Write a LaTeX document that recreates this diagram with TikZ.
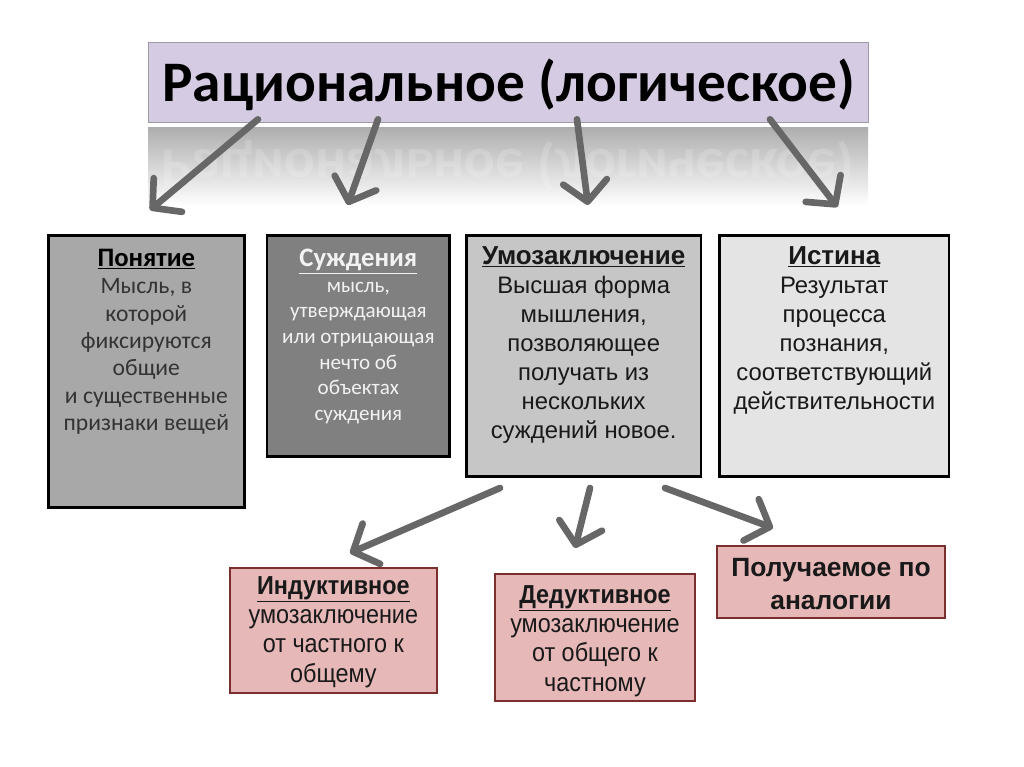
\documentclass[tikz,border=0pt]{standalone}
\usepackage{fontspec}
\setmainfont{Carlito}
\newfontfamily\arialfont{Liberation Sans}
\newfontfamily\narrowfont[FakeStretch=0.9]{Liberation Sans}
\usetikzlibrary{arrows.meta,positioning,calc}
\definecolor{titlefill}{HTML}{D5CBE2}
\definecolor{titledraw}{HTML}{9E9AA6}
\definecolor{arrgray}{HTML}{676767}
\definecolor{pinkfill}{HTML}{E6B9B8}
\definecolor{boxred}{HTML}{7A2E2E}
\definecolor{ponfill}{HTML}{A8A8A8}
\definecolor{sudfill}{HTML}{808080}
\definecolor{umofill}{HTML}{C6C6C6}
\definecolor{istfill}{HTML}{E4E4E4}

\begin{document}
\begin{tikzpicture}[x=0.75pt,y=-0.75pt,
  box/.style={draw=black, line width=2pt, inner sep=0pt, anchor=north west},
  pinkbox/.style={draw=boxred, line width=1.5pt, fill=pinkfill, inner sep=0pt, anchor=north west},
  boxtext/.style={anchor=north, inner sep=0pt, align=center},
  arr/.style={draw=arrgray, line width=5pt, line cap=round,
    -{Straight Barb[length=15pt,width=33pt,round]}},
  ]
  \useasboundingbox (0,0) rectangle (1024,767);
  \fill[white] (0,0) rectangle (1024,767);

  % title and its reflection
  \node[draw=titledraw, line width=1pt, fill=titlefill, inner sep=0pt,
    minimum width=540pt, minimum height=60pt, anchor=north west] (title) at (148,42) {};
  \node[inner sep=0pt, font=\fontsize{43}{45}\selectfont\bfseries] (titletext) at ([shift={(0,2)}]title.center) {Рациональное (логическое)};
  \shade[top color=black!32, bottom color=white] (148,127) rectangle (868,206);
  \begin{scope}
    \clip (148,127) rectangle (868,206);
    \node[inner sep=0pt, transform shape, yscale=-1, text=white, opacity=0.17,
      font=\fontsize{43}{45}\selectfont\bfseries] (mirror) at (508,166) {Рациональное (логическое)};
  \end{scope}

  % upper boxes
  \node[box, fill=ponfill, minimum width=147pt, minimum height=204pt] (pon) at (47,234) {};
  \node[box, fill=sudfill, minimum width=137pt, minimum height=166pt,
    right=15pt of pon.north east, anchor=north west] (sud) {};
  \node[box, fill=umofill, minimum width=176pt, minimum height=181pt] (umo) at (465,234) {};
  \node[box, fill=istfill, minimum width=172pt, minimum height=181pt,
    right=12pt of umo.north east, anchor=north west] (ist) {};

  \node[boxtext, text=black!80, font=\fontsize{17.7}{20.5}\selectfont] (pontext)
    at ([shift={(0,15)}]pon.north)
    {\textcolor{black}{\fontsize{20}{22}\selectfont\textbf{\underline{Понятие}}}\\Мысль, в\\которой\\фиксируются\\общие\\и существенные\\признаки вещей};
  \node[boxtext, text=black!5, font=\fontsize{15.8}{19.2}\selectfont] (sudtext)
    at ([shift={(0,15)}]sud.north)
    {{\fontsize{20}{22}\selectfont\textbf{\underline{Суждения}}}\\мысль,\\утверждающая\\или отрицающая\\нечто об\\объектах\\суждения};
  \node[boxtext, text=black!90, font=\arialfont\fontsize{17.9}{21.75}\selectfont] (umotext)
    at ([shift={(0,12)}]umo.north)
    {{\fontsize{19.5}{22}\selectfont\textbf{\underline{Умозаключение}}}\\Высшая форма\\мышления,\\позволяющее\\получать из\\нескольких\\суждений новое.};
  \node[boxtext, text=black!90, font=\arialfont\fontsize{17.9}{21.75}\selectfont] (isttext)
    at ([shift={(0,12)}]ist.north)
    {{\fontsize{19.5}{22}\selectfont\textbf{\underline{Истина}}}\\Результат\\процесса\\познания,\\соответствующий\\действительности};

  % lower boxes
  \node[pinkbox, minimum width=155pt, minimum height=94pt] (ind) at (229,567) {};
  \node[pinkbox, minimum width=150pt, minimum height=95pt] (ded) at (494,573) {};
  \node[pinkbox, minimum width=171pt, minimum height=54pt] (ana) at (716,545) {};

  \node[boxtext, text=black!90, font=\narrowfont\fontsize{19.5}{22}\selectfont] (indtext)
    at ([shift={(0,9)}]ind.north)
    {\textbf{\underline{Индуктивное}}\\умозаключение\\от частного к\\общему};
  \node[boxtext, text=black!90, font=\narrowfont\fontsize{19.5}{22}\selectfont] (dedtext)
    at ([shift={(0,12)}]ded.north)
    {\textbf{\underline{Дедуктивное}}\\умозаключение\\от общего к\\частному};
  \node[boxtext, anchor=center, text=black!90, font=\arialfont\bfseries\fontsize{19.8}{25}\selectfont] (anatext)
    at ([shift={(0,2)}]ana.center)
    {Получаемое по\\аналогии};

  % arrows
  \draw[arr] ([shift={(110,-4)}]title.south west) -- ([shift={(103,-24)}]pon.north west);
  \draw[arr] ([shift={(230,-4)}]title.south west) -- ([shift={(82,-29)}]sud.north west);
  \draw[arr] ([shift={(429,-4)}]title.south west) -- ([shift={(123,-29)}]umo.north west);
  \draw[arr] ([shift={(622,-4)}]title.south west) -- ([shift={(119,-27)}]ist.north west);
  \draw[arr] ([shift={(35,10)}]umo.south west) -- ([shift={(121,-14)}]ind.north west);
  \draw[arr] ([shift={(125,10)}]umo.south west) -- ([shift={(81,-25)}]ded.north west);
  \draw[arr] ([shift={(200,10)}]umo.south west) -- ([shift={(57,-17)}]ana.north west);
\end{tikzpicture}
\end{document}
